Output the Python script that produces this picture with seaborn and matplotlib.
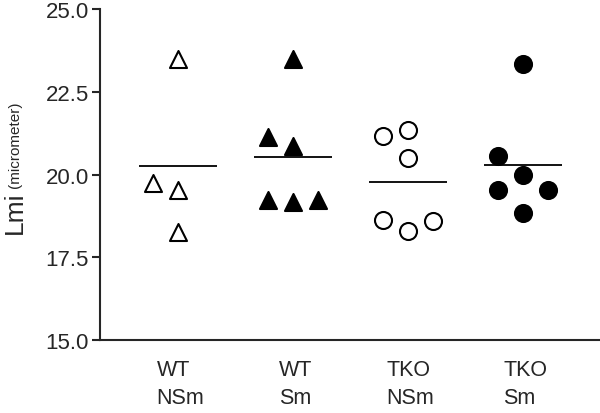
import matplotlib
matplotlib.use('Agg')
import matplotlib.pyplot as plt
import matplotlib.transforms as mtransforms
import seaborn as sns
import pandas as pd
import numpy as np

groups = ['WT\nNSm', 'WT\nSm', 'TKO\nNSm', 'TKO\nSm']
wt_nsm = [23.5, 19.73, 19.53, 18.28]
wt_sm = [23.5, 21.12, 20.85, 19.23, 19.16, 19.23]
tko_nsm = [21.17, 21.35, 20.51, 18.63, 18.30, 18.60]
tko_sm = [23.34, 20.57, 19.99, 19.54, 19.54, 18.83]

# side-by-side slot of each point inside its group (-1 left, 0 centre, 1 right)
wt_nsm_slot = [0, -1, 0, 0]
wt_sm_slot = [0, -1, 0, -1, 0, 1]
tko_nsm_slot = [-1, 0, 0, -1, 0, 1]
tko_sm_slot = [0, -1, 0, -1, 1, 0]

values = [wt_nsm, wt_sm, tko_nsm, tko_sm]
slots = [wt_nsm_slot, wt_sm_slot, tko_nsm_slot, tko_sm_slot]
markers = ['^', '^', 'o', 'o']
faces = ['white', 'black', 'white', 'black']

rows = []
for i, (g, v, s) in enumerate(zip(groups, values, slots)):
    for y, sl in zip(v, s):
        rows.append({'group': g, 'idx': i, 'x': i + 0.217 * sl, 'Lmi': y})
df = pd.DataFrame(rows)

sns.set_style('ticks')
plt.rcParams['font.family'] = ['Liberation Sans', 'DejaVu Sans']

fig = plt.figure(figsize=(6, 4.14), dpi=100)
ax = fig.add_axes([0.1667, 0.176, 0.8333, 0.8])

for i, g in enumerate(groups):
    sub = df[df['group'] == g]
    sns.scatterplot(data=sub, x='x', y='Lmi', marker=markers[i], s=150,
                    color=faces[i], edgecolor='black', linewidth=1.5,
                    ax=ax, zorder=3)
    m = sub['Lmi'].mean()
    ax.hlines(m, i - 0.34, i + 0.34, color='black', linewidth=1.3, zorder=2)

ax.set_xlim(-0.68, 3.67)
ax.set_ylim(15, 25)
ax.set_yticks([15, 17.5, 20, 22.5, 25])
ax.set_yticklabels(['15.0', '17.5', '20.0', '22.5', '25.0'], fontsize=16)
ax.set_xticks(range(len(groups)))
ax.set_xticklabels([])
ax.tick_params(axis='x', length=0)
ax.tick_params(axis='y', length=6, width=1.5, pad=2)

# two-line group labels, lines left-aligned within each label
trans = mtransforms.blended_transform_factory(ax.transData, ax.transAxes)
for i, g in enumerate(groups):
    ax.text(i + 0.02, -0.058, g, transform=trans, ha='center', va='top',
            multialignment='left', linespacing=1.4, fontsize=15.5)

ax.set_xlabel('')
ax.set_ylabel('')
for sp in ['left', 'bottom']:
    ax.spines[sp].set_linewidth(1.5)
sns.despine(ax=ax)

fig.text(0.024, 0.485, 'Lmi', rotation=90, fontsize=19, ha='center', va='center')
fig.text(0.025, 0.65, '(micrometer)', rotation=90, fontsize=11, ha='center', va='center')

fig.savefig('out.png', dpi=100)
